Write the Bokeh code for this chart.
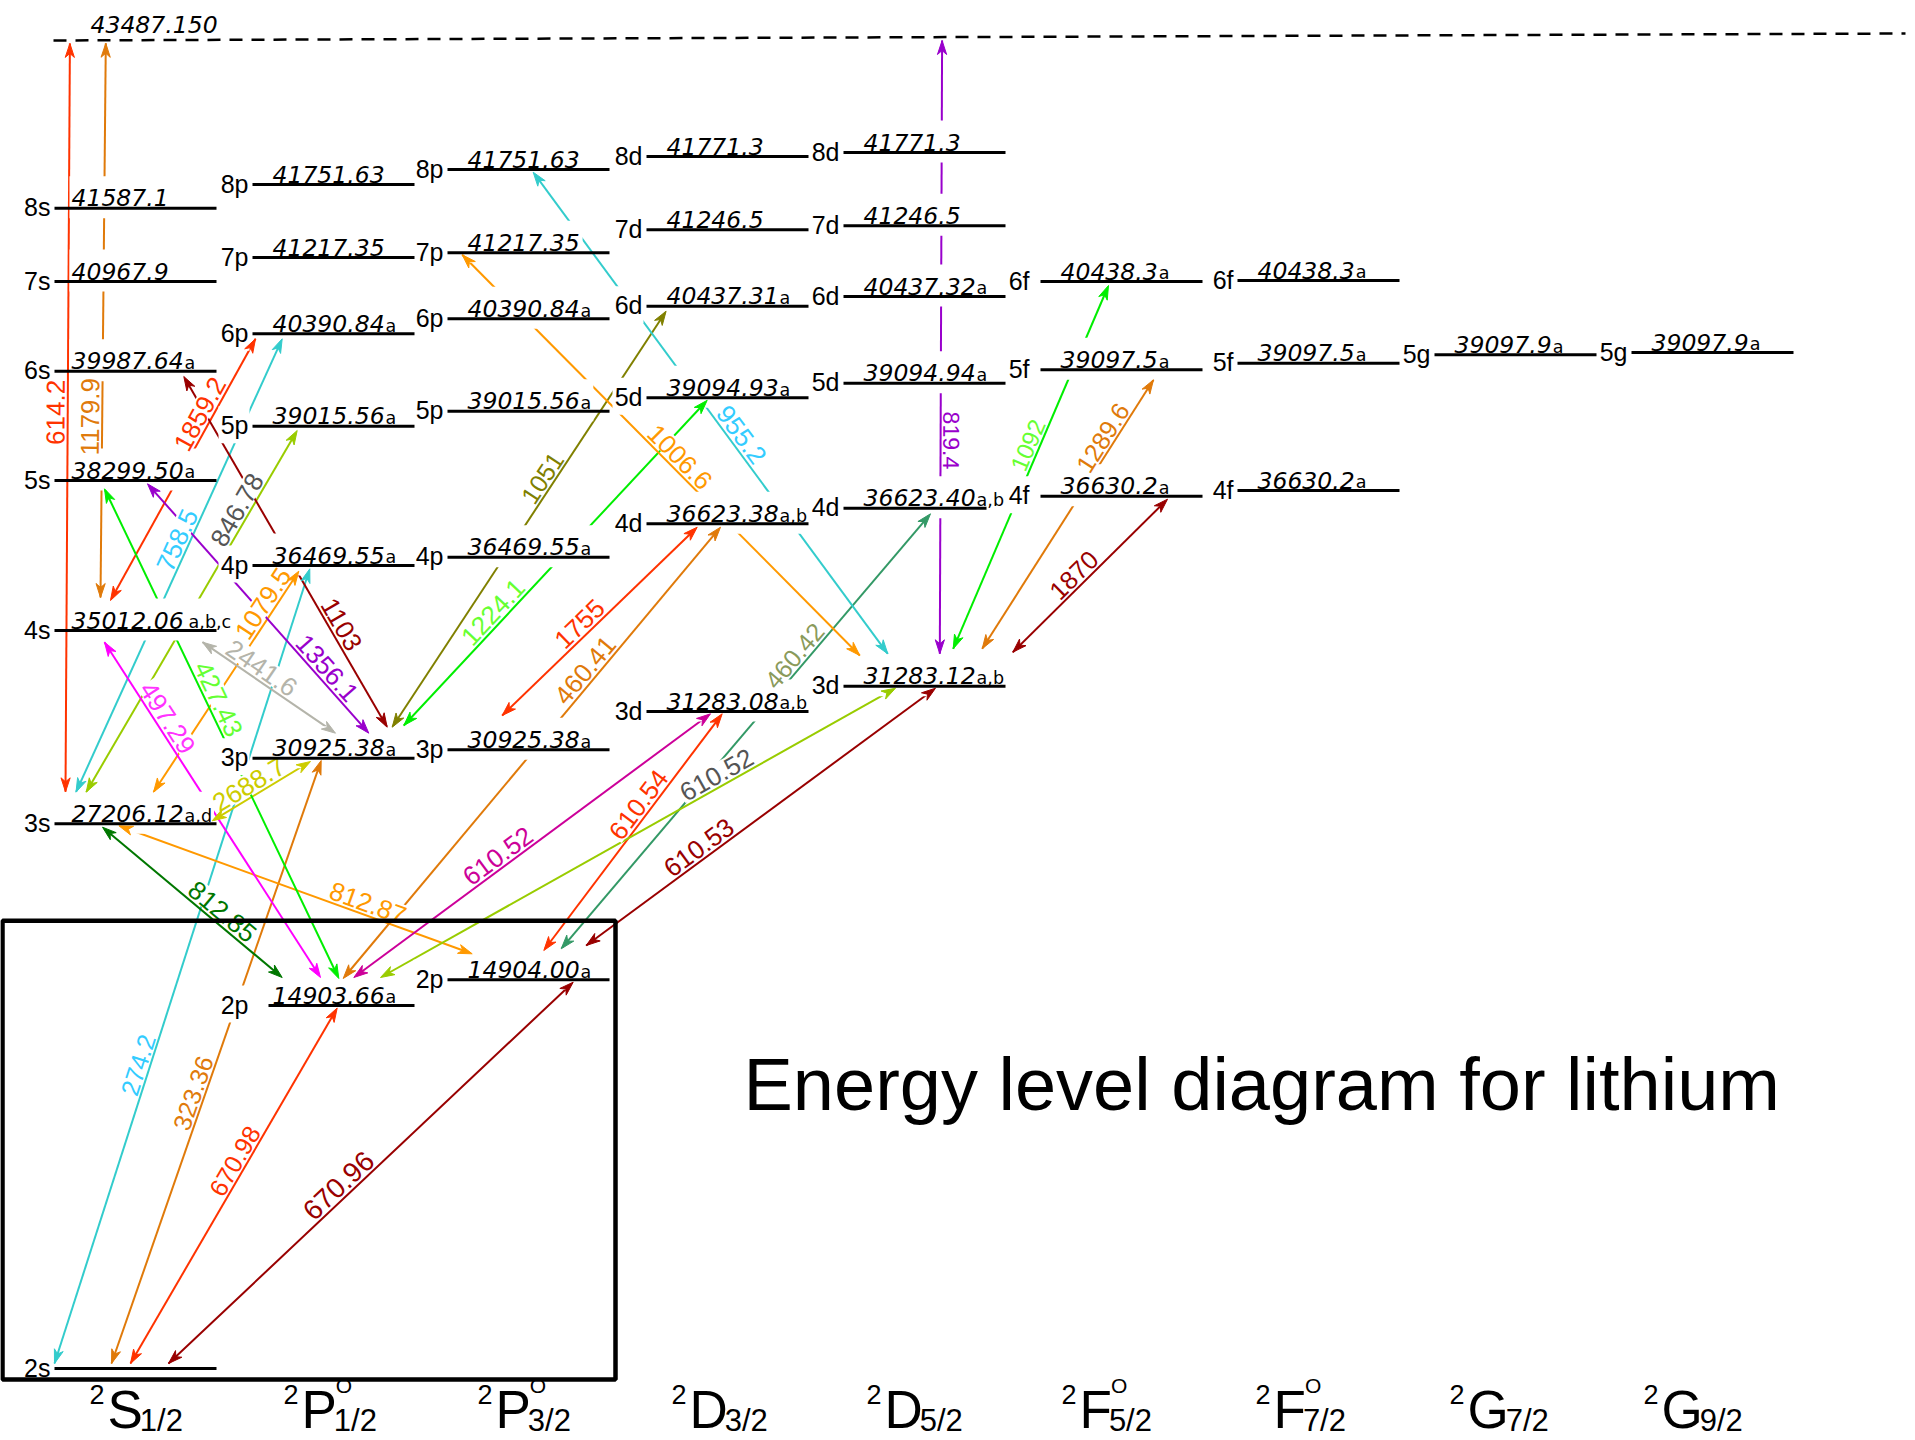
import math
from bokeh.plotting import figure
from bokeh.models import Range1d, ColumnDataSource
from bokeh.core.properties import value
from bokeh.embed import file_html
from bokeh.resources import INLINE

W, H = 1915, 1440

# ================= chart data =================
TERM_LETTER = ["S", "P", "P", "D", "D", "F", "F", "G", "G"]
TERM_J = ["1/2", "1/2", "3/2", "3/2", "5/2", "5/2", "7/2", "7/2", "9/2"]
TERM_ODD = [False, True, True, False, False, True, True, False, False]

LEVEL_KEYS = ["2s", "3s", "4s", "5s", "6s", "7s", "8s",
              "2p1", "3p1", "4p1", "5p1", "6p1", "7p1", "8p1",
              "2p3", "3p3", "4p3", "5p3", "6p3", "7p3", "8p3",
              "3d3", "4d3", "5d3", "6d3", "7d3", "8d3",
              "3d5", "4d5", "5d5", "6d5", "7d5", "8d5",
              "4f5", "5f5", "6f5", "4f7", "5f7", "6f7", "5g7", "5g9"]
LEVEL_NAMES = ["2s", "3s", "4s", "5s", "6s", "7s", "8s",
               "2p", "3p", "4p", "5p", "6p", "7p", "8p",
               "2p", "3p", "4p", "5p", "6p", "7p", "8p",
               "3d", "4d", "5d", "6d", "7d", "8d",
               "3d", "4d", "5d", "6d", "7d", "8d",
               "4f", "5f", "6f", "4f", "5f", "6f", "5g", "5g"]
LEVEL_TERM = [0] * 7 + [1] * 7 + [2] * 7 + [3] * 6 + [4] * 6 + [5] * 3 + [6] * 3 + [7, 8]
LEVEL_ENERGY = ["", "27206.12", "35012.06", "38299.50", "39987.64", "40967.9", "41587.1",
                "14903.66", "30925.38", "36469.55", "39015.56", "40390.84", "41217.35", "41751.63",
                "14904.00", "30925.38", "36469.55", "39015.56", "40390.84", "41217.35", "41751.63",
                "31283.08", "36623.38", "39094.93", "40437.31", "41246.5", "41771.3",
                "31283.12", "36623.40", "39094.94", "40437.32", "41246.5", "41771.3",
                "36630.2", "39097.5", "40438.3", "36630.2", "39097.5", "40438.3", "39097.9", "39097.9"]
LEVEL_NOTE = ["", "a,d", "a,b,c", "a", "a", "", "",
              "a", "a", "a", "a", "a", "", "",
              "a", "a", "a", "a", "a", "", "",
              "a,b", "a,b", "a", "a", "", "",
              "a,b", "a,b", "a", "a", "", "",
              "a", "a", "a", "a", "a", "a", "a", "a"]
IONIZATION_LIMIT = "43487.150"

TR_LOWER = ["3s", "4s", "4s", "3s", "3s", "3s", "2s", "2s", "2s", "2s",
            "2p1", "2p3", "3s", "2p1", "2p1", "3p1", "3p1", "3p1", "3p1", "3p1",
            "3p3", "2p1", "2p3", "3d5", "3d5", "3d5", "3d5", "3d5", "3d5",
            "2p1", "2p3", "2p1", "2p3"]
TR_UPPER = ["IP", "IP", "6p1", "6p1", "5p1", "4p1", "4p1", "3p1", "2p1", "2p3",
            "3s", "3s", "3p1", "4s", "5s", "4s", "5s", "6s", "6d3", "5d3",
            "4d3", "4d3", "4d5", "7p3", "8p3", "IP", "6f5", "5f5", "4f5",
            "3d3", "3d3", "3d5", "3d5"]
TR_WAVELENGTH = ["614.2", "1179.9", "1859.2", "758.5", "846.78", "1079.5", "274.2", "323.36",
                 "670.98", "670.96", "812.85", "812.87", "2688.7", "497.29", "427.43", "2441.6",
                 "1356.1", "1103", "1051", "1224.1", "1755", "460.41", "460.42", "1006.6",
                 "955.2", "819.4", "1092", "1289.6", "1870", "610.52", "610.54", "610.52", "610.53"]

# ================= layout & style =================
COL_X0 = [54, 252, 447, 646, 843, 1040, 1237, 1434, 1631]
LINE_LEN = 162
LEVEL_Y = [1368, 823.3, 630, 480, 370.7, 281, 207.7,
           1005, 757.7, 565, 425.7, 333.3, 257, 184,
           979.3, 749.3, 556.7, 410.7, 318.3, 252.3, 169,
           711, 523.3, 397.3, 305.7, 229.3, 156,
           685.7, 507.7, 382.7, 296, 225.3, 152,
           495.7, 369.3, 281, 490, 362.7, 280, 354.3, 352]
LINE_START_TRIM = {"2p1": 16}
LINE_END_TRIM = {"4d5": 19}
IP_X = (53, 1905)
IP_Y = (40, 33)

TR_DX_LO = [11, 46, 56, 21.5, 31.7, 99, 0, 57, 76, 114, 29.7, 24.7, 157.7, 68, 86.3, 83,
            116.3, 134.7, 139.7, 151.3, 54.7, 90.7, 113.7, 16.3, 44.3, 96.3, 109.7, 138.7,
            169.3, 101.3, 96.3, 128, 138.7]
TR_DX_HI = [16.4, 52.3, 3, 29.7, 44.7, 46.3, 57.3, 68.7, 84.7, 125.7, 48, 64.4, 58, 50, 50,
            148, 93, 129.3, 19.6, 60.7, 50.7, 74, 87, 14.7, 85.7, 888.6, 68, 113, 127, 64,
            75.7, 52, 92]
TR_DROP_LO = [32, 33, 30, 31.6, 31.6, 31.6, 5, 5, 5, 5, 28, 26, 3, 28, 27, 25, 25, 31, 31,
              32.7, 34.3, 27, 31, 30.7, 32.4, 32.4, 37.4, 37.4, 34, 28, 29.3, 28, 34.3]
TR_RISE_HI = [3, 3, 5, 5, 4.3, 5.7, 3.3, 2.3, 2.5, 2.4, 3.4, 2, 3.3, 11.7, 8.3, 11.7, 3.3,
              5.3, 5, 2.5, 3.4, 3.4, 5.6, 2, 2.7, 3.4, 4, 10, 3, 2.3, 2.3, 2, 2]
TR_LABEL_T = [0.507, 0.326, 0.69, 0.545, 0.764, 0.823, 0.371, 0.442, 0.553, 0.442, 0.376,
              0.307, 0.438, 0.755, 0.56, 0.606, 0.229, 0.276, 0.584, 0.323, 0.44, 0.666,
              0.656, 0.474, 0.44, 0.348, 0.548, 0.761, 0.448, 0.424, 0.585, 0.664, 0.343]
TR_FLIP = [False] * 25 + [True] + [False] * 7
TR_LABEL_SIZE = [26, 26, 26, 26, 26, 26, 25, 25, 25, 28, 26, 26, 26, 26, 26, 26, 26, 26, 25,
                 26, 26, 26, 25, 26, 26, 23, 24, 25, 25.5, 26, 26, 26, 26]

RED, DORANGE, ORANGE = "#ff3300", "#e07a0a", "#ff9900"
CYAN, SKY, YG, GRAY = "#33cccc", "#33ccff", "#99cc00", "#555555"
DRED, DGREEN, GREEN, LGREEN = "#990000", "#007700", "#00ee00", "#66ff33"
PURPLE, MAG, MAG2, OLIVE = "#9900cc", "#ff00ff", "#cc0099", "#808000"
SILVER, TEAL, YELLOW, TEALLAB = "#b4b4aa", "#339966", "#cccc00", "#8a9a5b"

TR_COLOR = [RED, DORANGE, RED, CYAN, YG, ORANGE, CYAN, DORANGE, RED, DRED, DGREEN, ORANGE,
            YELLOW, MAG, GREEN, SILVER, PURPLE, DRED, OLIVE, GREEN, RED, DORANGE, TEAL,
            ORANGE, CYAN, PURPLE, GREEN, DORANGE, DRED, MAG2, RED, YG, DRED]
TR_LABEL_COLOR = [RED, DORANGE, RED, SKY, GRAY, ORANGE, SKY, DORANGE, RED, DRED, DGREEN,
                  ORANGE, YELLOW, "#ff33ff", LGREEN, SILVER, PURPLE, DRED, OLIVE, LGREEN, RED,
                  DORANGE, TEALLAB, ORANGE, SKY, PURPLE, LGREEN, DORANGE, DRED, MAG2, RED,
                  GRAY, DRED]

TERM_LABEL_X = [89, 283, 477, 671, 866, 1061, 1255, 1449, 1643]
ARIAL_CAP = {"S": 0.667, "P": 0.667, "D": 0.722, "F": 0.611, "G": 0.778}
ARIAL_W = {c: 0.556 for c in "0123456789"}
ARIAL_W.update({".": 0.278})
DEJAVU_W = {c: 0.636 for c in "0123456789"}
DEJAVU_W.update({".": 0.318, ",": 0.318, "a": 0.613, "b": 0.635, "c": 0.55, "d": 0.635})

SANS = "Liberation Sans"
DV = "DejaVu Sans"
E_SIZE, N_SIZE, SUB_SIZE, NAME_SIZE = 23.5, 23.5, 17.5, 25
BASE_FIX = 0.35   # em: renderer draws the "alphabetic" baseline this far below the anchor


def yup(yd):
    return H - yd


def base(yd, size):
    """anchor (y-up) that puts the text baseline at screen row yd"""
    return H - yd + BASE_FIX * size


def tw(s, table, size):
    return sum(table.get(ch, 0.6) for ch in s) * size


idx = {k: i for i, k in enumerate(LEVEL_KEYS)}


def level_x0(k):
    return IP_X[0] if k == "IP" else COL_X0[LEVEL_TERM[idx[k]]]


def level_y_at(k, x):
    if k == "IP":
        return IP_Y[0] + (x - IP_X[0]) * (IP_Y[1] - IP_Y[0]) / (IP_X[1] - IP_X[0])
    return LEVEL_Y[idx[k]]


p = figure(width=W, height=H, x_range=Range1d(0, W), y_range=Range1d(0, H),
           output_backend="svg", toolbar_location=None,
           x_axis_location=None, y_axis_location=None, min_border=0)
p.grid.visible = False
p.outline_line_color = None
p.background_fill_color = "white"
p.border_fill_color = "white"

# ---------- transitions ----------
seg = dict(x0=[], y0=[], x1=[], y1=[], c=[])
heads = dict(xs=[], ys=[], c=[])
lab = dict(x=[], y=[], text=[], angle=[], c=[], size=[])
lmask = dict(x=[], y=[], w=[], h=[], angle=[])


def head(tx, ty, ux, uy, L=14.0, w=4.6, k=10.0):
    nx, ny = -uy, ux
    return ([tx, tx - L * ux + w * nx, tx - k * ux, tx - L * ux - w * nx],
            [ty, ty - L * uy + w * ny, ty - k * uy, ty - L * uy - w * ny])


for i in range(len(TR_LOWER)):
    lo, hi = TR_LOWER[i], TR_UPPER[i]
    xl = level_x0(lo) + TR_DX_LO[i]
    yl = level_y_at(lo, xl) - TR_DROP_LO[i]
    xh = level_x0(hi) + TR_DX_HI[i]
    yh = level_y_at(hi, xh) + TR_RISE_HI[i]
    X1, Y1, X2, Y2 = xl, yup(yl), xh, yup(yh)
    dx, dy = X2 - X1, Y2 - Y1
    L = math.hypot(dx, dy)
    ux, uy = dx / L, dy / L
    c = TR_COLOR[i]
    seg["x0"].append(X1); seg["y0"].append(Y1); seg["x1"].append(X2); seg["y1"].append(Y2)
    seg["c"].append(c)
    for (tx, ty, vx, vy) in ((X2, Y2, ux, uy), (X1, Y1, -ux, -uy)):
        hx, hy = head(tx, ty, vx, vy)
        heads["xs"].append(hx); heads["ys"].append(hy); heads["c"].append(c)
    th = math.atan2(dy, dx)
    if th > math.pi / 2:
        th -= math.pi
    if TR_FLIP[i]:
        th -= math.pi
    nx, ny = -math.sin(th), math.cos(th)
    t = TR_LABEL_T[i]
    size = TR_LABEL_SIZE[i]
    gap = 3.0
    bx = X1 + t * dx + nx * gap          # true baseline point
    by = Y1 + t * dy + ny * gap
    ax = bx + nx * BASE_FIX * size       # anchor compensating the renderer offset
    ay = by + ny * BASE_FIX * size
    lab["x"].append(ax); lab["y"].append(ay); lab["text"].append(TR_WAVELENGTH[i])
    lab["angle"].append(th); lab["c"].append(TR_LABEL_COLOR[i]); lab["size"].append(f"{size}px")
    cap = 0.716 * size
    lmask["x"].append(bx + nx * (cap / 2 + 0.5)); lmask["y"].append(by + ny * (cap / 2 + 0.5))
    lmask["w"].append(tw(TR_WAVELENGTH[i], ARIAL_W, size) + 2); lmask["h"].append(cap + 2)
    lmask["angle"].append(th)

# ---------- levels (geometry) ----------
emask = dict(left=[], right=[], top=[], bottom=[])
en = dict(x=[], y=[], text=[])
notes = dict(x=[], y=[], text=[])
names = dict(x=[], y=[], text=[])
lines = dict(x0=[], x1=[], y=[])
for i, k in enumerate(LEVEL_KEYS):
    col = LEVEL_TERM[i]
    x0 = COL_X0[col]
    y = LEVEL_Y[i]
    lines["x0"].append(x0 + LINE_START_TRIM.get(k, 0))
    lines["x1"].append(x0 + LINE_LEN - LINE_END_TRIM.get(k, 0))
    lines["y"].append(yup(y))
    nr = x0 - (11 if col == 5 else 4)
    names["x"].append(nr); names["y"].append(base(y + 8, NAME_SIZE)); names["text"].append(LEVEL_NAMES[i])
    nw = 1.12 * NAME_SIZE
    emask["left"].append(nr - nw - 2); emask["right"].append(nr + 1)
    emask["top"].append(yup(y - 20)); emask["bottom"].append(yup(y + 17))
    if LEVEL_ENERGY[i]:
        ex = x0 + (17 if col == 0 else 20)
        ew = tw(LEVEL_ENERGY[i], DEJAVU_W, E_SIZE)
        en["x"].append(ex); en["y"].append(base(y - 2, E_SIZE)); en["text"].append(LEVEL_ENERGY[i])
        sx = ex + ew + (5 if "c" in LEVEL_NOTE[i] else 1)
        sw = tw(LEVEL_NOTE[i], DEJAVU_W, SUB_SIZE)
        if LEVEL_NOTE[i]:
            notes["x"].append(sx); notes["y"].append(base(y - 2, SUB_SIZE)); notes["text"].append(LEVEL_NOTE[i])
        emask["left"].append(ex - 2); emask["right"].append(sx + sw + 2)
        emask["top"].append(yup(y - 32)); emask["bottom"].append(yup(y + 10))

# ---------- draw, back to front ----------
p.segment(x0="x0", y0="y0", x1="x1", y1="y1", line_color="c", line_width=2,
          source=ColumnDataSource(seg))
p.rect(x="x", y="y", width="w", height="h", angle="angle", fill_color="white",
       line_color=None, source=ColumnDataSource(lmask))
p.quad(left="left", right="right", top="top", bottom="bottom", fill_color="white",
       line_color=None, source=ColumnDataSource(emask))
p.patches(xs="xs", ys="ys", fill_color="c", line_color="c", line_width=1,
          source=ColumnDataSource(heads))
p.text(x="x", y="y", text="text", angle="angle", text_color="c", text_font_size="size",
       text_font=value(SANS), text_align="center", text_baseline="alphabetic",
       source=ColumnDataSource(lab))
p.text(x="x", y="y", text="text", text_font=value(SANS), text_font_size=f"{NAME_SIZE}px",
       text_align="right", text_baseline="alphabetic", text_color="black",
       source=ColumnDataSource(names))
p.text(x="x", y="y", text="text", text_font=value(DV), text_font_style="italic",
       text_font_size=f"{E_SIZE}px", text_align="left", text_baseline="alphabetic",
       text_color="black", source=ColumnDataSource(en))
p.text(x="x", y="y", text="text", text_font=value(DV), text_font_size=f"{SUB_SIZE}px",
       text_align="left", text_baseline="alphabetic", text_color="black",
       source=ColumnDataSource(notes))
p.segment(x0="x0", y0="y", x1="x1", y1="y", line_color="black", line_width=3,
          source=ColumnDataSource(lines))

# ionization limit
p.line([IP_X[0], IP_X[1]], [yup(IP_Y[0]), yup(IP_Y[1])], line_color="black",
       line_width=2.5, line_dash="13 9")
p.text(x=[90], y=[base(32, N_SIZE)], text=[IONIZATION_LIMIT], text_font=value(DV),
       text_font_style="italic", text_font_size=f"{N_SIZE}px", text_align="left",
       text_baseline="alphabetic", text_color="black")

# box
p.quad(left=[2], right=[615], top=[yup(920.3)], bottom=[yup(1379)], fill_color=None,
       line_color="black", line_width=4.5)

# term labels
for i, letter in enumerate(TERM_LETTER):
    bx = TERM_LABEL_X[i]
    p.text(x=[bx], y=[base(1403, 27)], text=["2"], text_font=value(SANS), text_font_size="27px",
           text_align="left", text_baseline="alphabetic", text_color="black")
    mx = bx + 18
    p.text(x=[mx], y=[base(1428, 53)], text=[letter], text_font=value(SANS), text_font_size="53px",
           text_align="left", text_baseline="alphabetic", text_color="black")
    rx = mx + ARIAL_CAP[letter] * 53 - 3
    p.text(x=[rx], y=[base(1431, 31)], text=[TERM_J[i]], text_font=value(SANS),
           text_font_size="31px", text_align="left", text_baseline="alphabetic",
           text_color="black")
    if TERM_ODD[i]:
        p.text(x=[rx + 2], y=[base(1392, 21)], text=["O"], text_font=value(SANS),
               text_font_size="21px", text_align="left", text_baseline="alphabetic",
               text_color="black")

p.text(x=[743], y=[base(1110, 74)], text=["Energy level diagram for lithium"],
       text_font=value(SANS), text_font_size="74px", text_align="left",
       text_baseline="alphabetic", text_color="black")

open("out.html", "w").write(file_html(p, INLINE))
